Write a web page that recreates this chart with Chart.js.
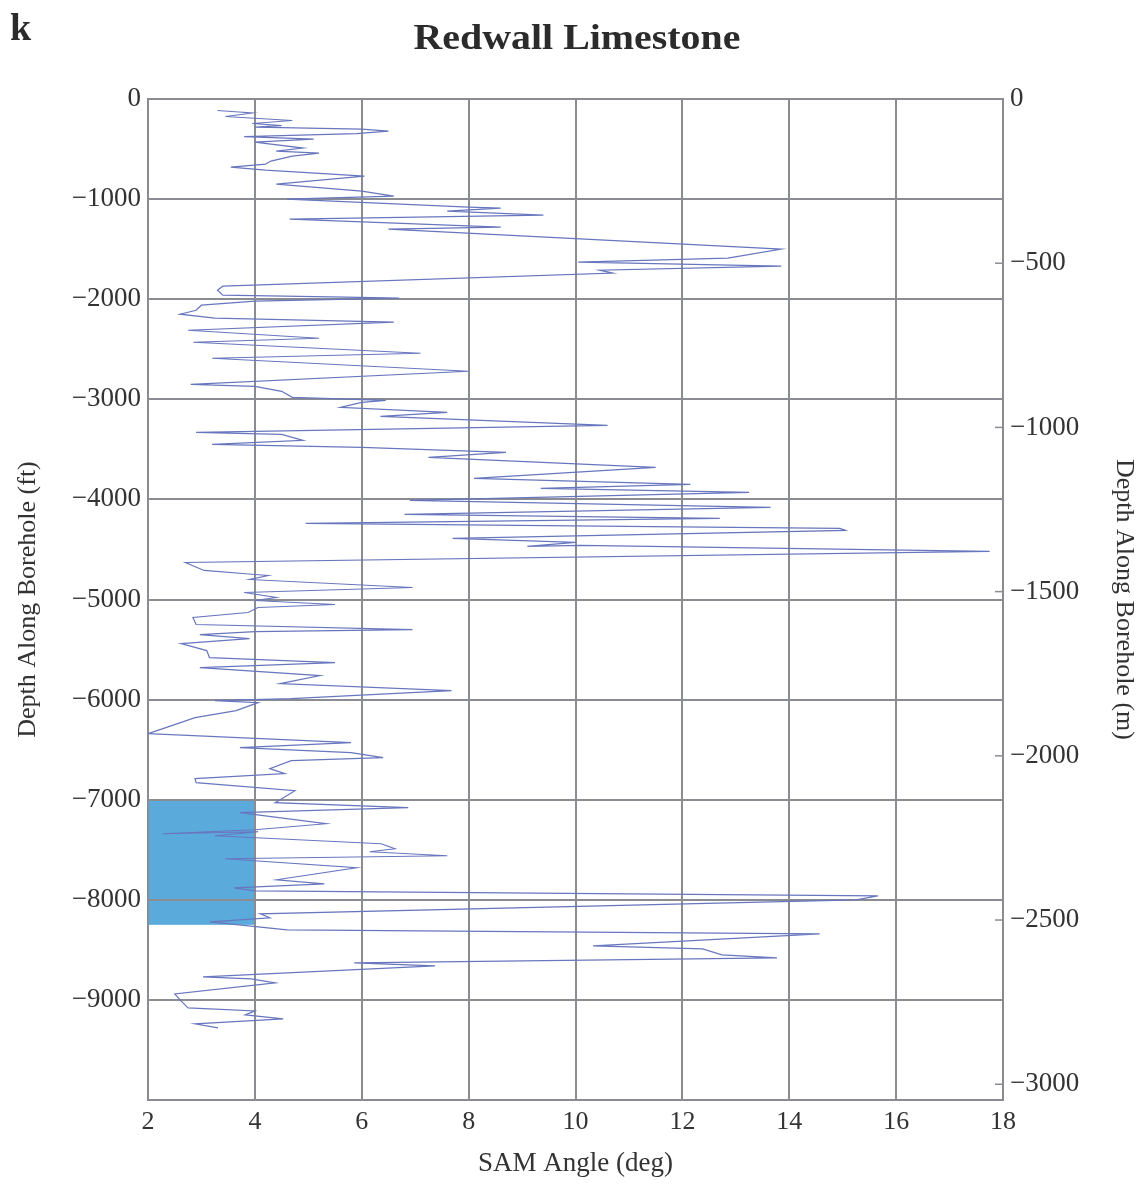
<!DOCTYPE html>
<html>
<head>
<meta charset="utf-8">
<script src="https://cdn.jsdelivr.net/npm/chart.js@4.4.1/dist/chart.umd.min.js"></script>
<style>
html,body{margin:0;padding:0;background:#fff;}
#wrap{width:1143px;height:1184px;position:relative;}
</style>
</head>
<body>
<div id="wrap"><canvas id="c" width="1143" height="1184"></canvas></div>
<script>
const depthFt = [-115,-130,-140,-175,-215,-245,-265,-280,-300,-320,-345,-375,-400,-430,-490,-520,-540,-570,-620,-650,-680,-710,-770,-850,-920,-970,-1000,-1080,-1090,-1120,-1160,-1200,-1280,-1300,-1500,-1590,-1630,-1670,-1710,-1740,-1870,-1910,-1960,-1980,-1990,-2020,-2060,-2110,-2150,-2190,-2230,-2310,-2390,-2430,-2540,-2590,-2720,-2850,-2870,-2920,-2980,-3010,-3030,-3080,-3130,-3170,-3260,-3330,-3350,-3410,-3450,-3480,-3530,-3580,-3680,-3790,-3850,-3890,-3930,-4010,-4080,-4150,-4190,-4240,-4290,-4310,-4390,-4430,-4470,-4460,-4520,-4630,-4710,-4750,-4760,-4800,-4880,-4930,-4980,-5010,-5050,-5080,-5130,-5180,-5250,-5300,-5320,-5350,-5390,-5440,-5510,-5580,-5630,-5680,-5760,-5840,-5910,-5990,-6010,-6030,-6110,-6180,-6290,-6340,-6430,-6480,-6530,-6580,-6610,-6690,-6740,-6790,-6830,-6910,-7030,-7080,-7130,-7240,-7300,-7340,-7320,-7360,-7440,-7490,-7520,-7560,-7590,-7680,-7800,-7840,-7880,-7910,-7960,-8000,-8140,-8180,-8220,-8300,-8340,-8460,-8490,-8550,-8580,-8630,-8660,-8770,-8790,-8830,-8940,-9000,-9080,-9110,-9150,-9190,-9240,-9280];
const samAngle = [3.3,3.7,3.95,3.45,4.7,3.95,4.5,4.0,6.0,6.5,5.9,3.8,5.1,4.0,4.9,4.4,5.2,4.7,4.3,4.2,3.55,4.2,6.05,4.4,6.0,6.6,4.6,8.0,8.6,7.6,9.4,4.65,8.6,6.5,13.85,12.85,10.05,13.85,10.45,10.7,3.4,3.3,3.4,5.7,6.7,4.0,3.0,2.9,2.6,3.25,6.6,2.75,5.2,2.85,7.1,3.2,8.0,2.8,4.0,4.5,4.7,6.45,6.0,5.6,7.6,6.35,10.6,2.9,4.5,4.9,3.2,6.0,8.7,7.25,11.5,8.1,12.15,9.35,13.25,6.9,13.65,6.8,12.7,4.95,14.95,15.05,7.7,10.0,9.1,10.1,17.75,2.7,3.05,4.0,4.25,3.9,6.95,3.8,4.4,4.0,5.5,4.06,3.87,2.84,2.9,6.95,4.0,2.97,3.9,2.62,3.1,3.15,5.5,2.97,5.22,4.47,7.68,4.68,3.25,4.06,3.65,2.88,2.28,2.0,5.8,3.72,5.8,6.4,4.68,4.28,4.56,2.88,2.9,4.75,4.38,6.87,3.72,5.33,4.0,2.28,4.06,3.25,6.36,6.62,6.15,7.6,3.44,5.9,4.41,5.3,3.61,4.0,15.66,15.25,4.1,4.28,3.16,4.6,14.57,10.33,12.38,12.74,13.77,5.86,7.37,3.03,3.93,4.38,2.5,2.6,2.75,4.0,3.82,4.53,2.88,3.31];
// highlighted interval
const boxAngle = [2, 4];
const boxDepth = [-7000, -8250];
// axes
const xTicks = [2,4,6,8,10,12,14,16,18];
const ftTicks = [0,-1000,-2000,-3000,-4000,-5000,-6000,-7000,-8000,-9000];
const mTicks = [0,-500,-1000,-1500,-2000,-2500,-3000];
const FT2M = 0.3048;

const SERIF = '"Liberation Serif","DejaVu Serif",serif';
const TXT = '#333333';
const GRID = 'rgb(138,140,146)';
const fmt = v => (v < 0 ? '\u2212' + Math.abs(v) : String(v));

const points = depthFt.map((d, i) => ({x: samAngle[i], y: d}));

const decor = {
  id: 'decor',
  beforeDraw(chart) {
    const {ctx, scales} = chart;
    const x0 = scales.x.getPixelForValue(boxAngle[0]);
    const x1 = scales.x.getPixelForValue(boxAngle[1]);
    const y0 = scales.y.getPixelForValue(boxDepth[0]);
    const y1 = scales.y.getPixelForValue(boxDepth[1]);
    ctx.save();
    ctx.fillStyle = '#5BAADC';
    ctx.fillRect(x0, y0, x1 - x0, y1 - y0);
    ctx.restore();
  },
  afterDraw(chart) {
    const {ctx, scales} = chart;
    ctx.save();
    // inner ticks on the metre axis
    const xr = scales.y2.left;
    ctx.strokeStyle = GRID;
    ctx.lineWidth = 1.5;
    mTicks.forEach(m => {
      const y = scales.y2.getPixelForValue(m);
      ctx.beginPath(); ctx.moveTo(xr - 8, y); ctx.lineTo(xr, y); ctx.stroke();
    });
    ctx.fillStyle = '#2b2b2b';
    ctx.textBaseline = 'alphabetic';
    ctx.font = 'bold 38px ' + SERIF;
    ctx.textAlign = 'left';
    ctx.fillText('k', 10, 40);
    ctx.font = 'bold 35px ' + SERIF;
    ctx.textAlign = 'center';
    ctx.translate(577, 49);
    ctx.scale(1.14, 1);
    ctx.fillText('Redwall Limestone', 0, 0);
    ctx.restore();
  }
};

new Chart(document.getElementById('c'), {
  type: 'scatter',
  data: {
    datasets: [{
      data: points,
      showLine: true,
      borderColor: 'rgb(104,118,190)',
      borderWidth: 1.2,
      pointRadius: 0,
      tension: 0
    }]
  },
  options: {
    responsive: false,
    animation: false,
    layout: {padding: {top: 99, left: 0, right: 0, bottom: 0}},
    plugins: {legend: {display: false}, tooltip: {enabled: false}, title: {display: false}},
    scales: {
      x: {
        type: 'linear', min: 2, max: 18,
        afterBuildTicks: s => { s.ticks = xTicks.map(v => ({value: v})); },
        afterFit: s => { s.height = 84; },
        grid: {color: GRID, lineWidth: 2, drawTicks: false},
        border: {color: GRID, width: 2},
        ticks: {color: TXT, font: {family: SERIF, size: 26}, padding: 7, callback: v => fmt(v)},
        title: {display: true, text: 'SAM Angle (deg)', color: TXT, font: {family: SERIF, size: 27}, padding: {top: 0, bottom: 4}}
      },
      y: {
        type: 'linear', position: 'left', min: -10000, max: 0,
        afterBuildTicks: s => { s.ticks = [...ftTicks, -10000].map(v => ({value: v})); },
        afterFit: s => { s.width = 148; },
        grid: {color: GRID, lineWidth: 2, drawTicks: false},
        border: {color: GRID, width: 2},
        ticks: {color: TXT, font: {family: SERIF, size: 27}, padding: 7, callback: v => (v === -10000 ? '' : fmt(v))},
        title: {display: true, text: 'Depth Along Borehole (ft)', color: TXT, font: {family: SERIF, size: 26}, padding: {top: 13, bottom: 0}}
      },
      y2: {
        type: 'linear', position: 'right', min: -10000 * FT2M, max: 0,
        afterBuildTicks: s => { s.ticks = mTicks.map(v => ({value: v})); },
        afterFit: s => { s.width = 140; },
        grid: {drawOnChartArea: false, drawTicks: false},
        border: {color: GRID, width: 2},
        ticks: {color: TXT, font: {family: SERIF, size: 27}, padding: 7, callback: v => fmt(v)},
        title: {display: true, text: 'Depth Along Borehole (m)', color: TXT, font: {family: SERIF, size: 26}, padding: {top: 4, bottom: 0}}
      }
    }
  },
  plugins: [decor]
});
</script>
</body>
</html>
